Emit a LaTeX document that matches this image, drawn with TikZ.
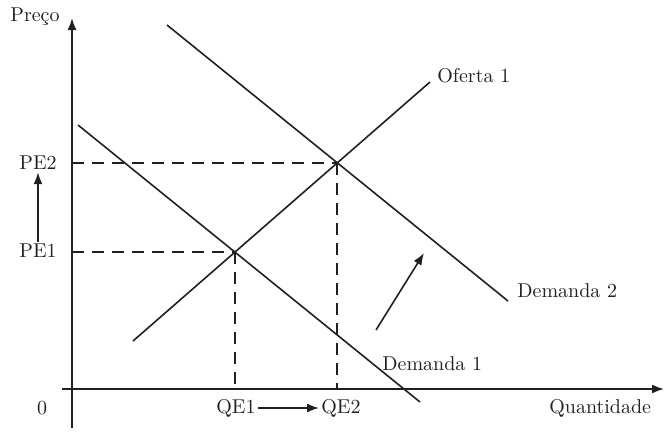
\documentclass[tikz,border=0pt]{standalone}
\usepackage{tikz}
\usetikzlibrary{arrows.meta, positioning}
\definecolor{mydark}{RGB}{35,31,32}
\tikzset{
  axis/.style={-{Latex[length=6pt, width=4.5pt]}, line width=0.8pt, color=mydark},
  curve/.style={line width=0.8pt, color=mydark},
  guide/.style={dash pattern=on 6pt off 4pt, line width=0.8pt, color=mydark},
  shiftarrow/.style={-{Latex[length=6pt, width=4.5pt]}, line width=0.8pt, color=mydark},
  lbl/.style={font=\normalsize, color=mydark, inner sep=1pt}
}
\begin{document}
\begin{tikzpicture}[x=0.5pt, y=-0.5pt]
  \useasboundingbox (0,0) rectangle (664,441);
  % axes
  \draw[axis] (72,428) -- (72,18);
  \draw[axis] (62,389) -- (664,389);
  \node[lbl] (preco) at (35,17) {Preço};
  \node[lbl] (zero) at (42,408) {0};
  \node[lbl, anchor=west] (quant) at (547,408) {Quantidade};
  % equilibrium points
  \coordinate (e1) at (235,252);
  \coordinate (e2) at (337,163);
  % supply and demand curves
  \draw[curve] (133,341) -- (430,82);
  \draw[curve] (78,125) -- (420,402);
  \draw[curve] (167,25) -- (508,301);
  \node[lbl, anchor=west] (of1) at (435,76) {Oferta 1};
  \node[lbl, anchor=west] (dem1) at (380,364) {Demanda 1};
  \node[lbl, anchor=west] (dem2) at (515,291) {Demanda 2};
  % dashed guides
  \draw[guide] (72,252) -- (e1);
  \draw[guide] (e1) -- (235,389);
  \draw[guide] (72,163) -- (e2);
  \draw[guide] (e2) -- (337,389);
  % price and quantity labels
  \node[lbl] (pe1) at (38,251) {PE1};
  \node[lbl] (pe2) at (38,163) {PE2};
  \node[lbl] (qe1) at (236,408) {QE1};
  \node[lbl] (qe2) at (341,408) {QE2};
  % shifts
  \draw[shiftarrow] (pe1) -- (pe2);
  \draw[shiftarrow] (qe1) -- (qe2);
  \coordinate (sfrom) at (376,330);
  \coordinate (sto) at (424,253);
  \draw[shiftarrow] (sfrom) -- (sto);
\end{tikzpicture}
\end{document}
